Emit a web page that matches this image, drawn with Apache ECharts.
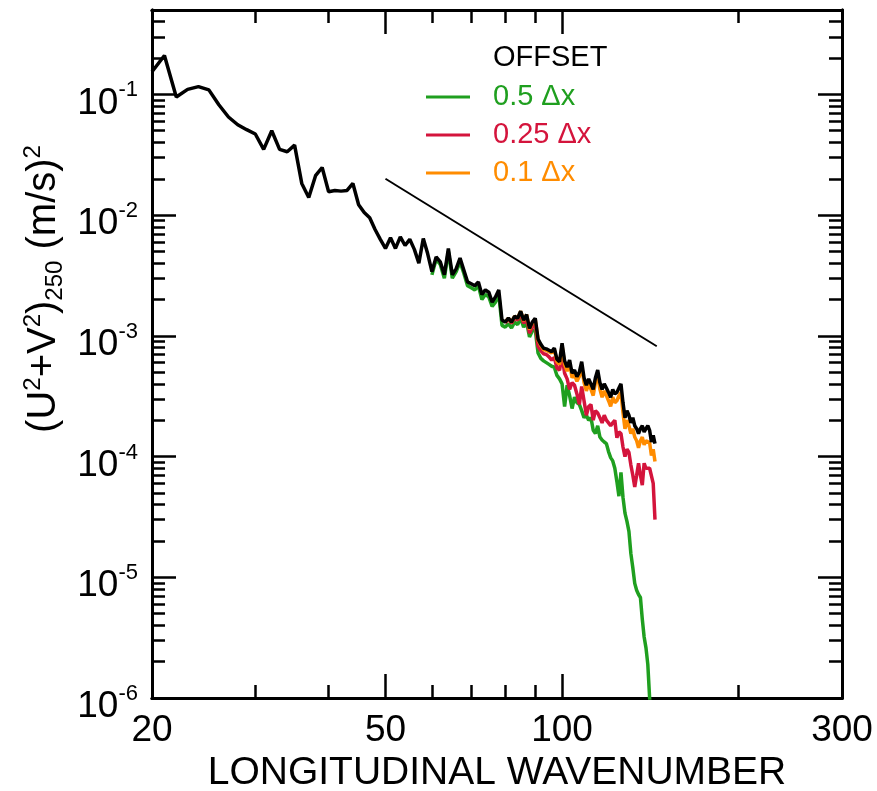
<!DOCTYPE html>
<html>
<head>
<meta charset="utf-8">
<script src="https://cdn.jsdelivr.net/npm/echarts@6/dist/echarts.min.js"></script>
<style>
html, body { margin: 0; padding: 0; background: #fff; }
#chart { width: 877px; height: 791px; }
</style>
</head>
<body>
<div id="chart"></div>
<script>
var FONT = "'Liberation Sans', Arial, Helvetica, sans-serif";
var GREEN = '#1f9f1f', RED = '#d4143c', ORANGE = '#ff8c00';

// wavenumbers 20..144
var wavenumber = [20,21,22,23,24,25,26,27,28,29,30,31,32,33,34,35,36,37,38,39,
	40,41,42,43,44,45,46,47,48,49,50,51,52,53,54,55,56,57,58,59,
	60,61,62,63,64,65,66,67,68,69,70,71,72,73,74,75,76,77,78,79,
	80,81,82,83,84,85,86,87,88,89,90,91,92,93,94,95,96,97,98,99,
	100,101,102,103,104,105,106,107,108,109,110,111,112,113,114,115,116,117,118,119,
	120,121,122,123,124,125,126,127,128,129,130,131,132,133,134,135,136,137,138,139,
	140,141,142,143,144];

// no offset (black), k = 20..144
var blackVals = [0.154,0.21,0.095,0.110,0.116,0.109,0.082,0.065,0.056,0.051,
	0.047,0.035,0.050,0.035,0.0335,0.038,0.0183,0.0140,0.0212,0.0248,
	0.0156,0.0160,0.0158,0.0160,0.0183,0.0122,0.0105,0.0095,0.0076,0.0063,
	0.0053,0.0065,0.0053,0.0066,0.0056,0.0063,0.0052,0.0040,0.0064,0.0048,
	0.0034,0.0045,0.0041,0.0032,0.0053,0.0032,0.0036,0.0044,0.0035,0.0028,
	0.0027,0.0026,0.0028,0.0022,0.0024,0.0023,0.0019,0.0021,0.0024,0.00135,
	0.0013,0.0014,0.0013,0.00145,0.0014,0.0016,0.00135,0.0015,0.00115,0.0013,
	0.0014,0.00094,0.00085,0.00079,0.00078,0.00076,0.00074,0.00079,0.00064,0.00061,
	0.00087,0.00062,0.00055,0.00063,0.00049,0.00052,0.00046,0.00050,0.00061,0.00045,
	0.00039,0.00044,0.00040,0.00036,0.00045,0.00052,0.00041,0.00036,0.00040,0.00037,
	0.00034,0.00031,0.00036,0.00033,0.00034,0.00037,0.00040,0.00028,0.00021,0.00024,
	0.00022,0.00019,0.00021,0.00018,0.00017,0.000155,0.00017,0.00018,0.00016,0.00017,
	0.00018,0.000165,0.000132,0.00015,0.000128];

// 0.5 dx (green), k = 60..142
var greenVals = [0.0032,0.0043,0.0039,0.0030,0.0050,0.0030,0.0034,0.0041,0.0033,0.0026,
	0.0025,0.0024,0.0026,0.0020,0.0022,0.0021,0.00175,0.0019,0.0022,0.00122,
	0.00118,0.00126,0.00116,0.0013,0.00124,0.0014,0.00118,0.0013,0.00098,0.0011,
	0.00112,0.00072,0.00065,0.00062,0.0006,0.00058,0.00056,0.00055,0.00047,0.00044,
	0.00040,0.00026,0.00039,0.00032,0.00025,0.00031,0.00028,0.00027,0.00024,0.00021,
	0.00022,0.0002,0.00021,0.000165,0.000155,0.00018,0.000145,0.000137,0.000132,0.000128,
	0.00011,0.000098,0.000092,0.00008,0.000062,0.000047,0.000074,0.000046,0.000034,0.000029,
	0.000024,0.0000157,0.000012,0.0000089,0.0000078,0.0000072,0.0000068,0.0000045,0.0000032,0.0000026,
	0.0000019,0.0000010,0.0000006];

// 0.25 dx (red), k = 80..144
var redVals = [0.00128,0.00138,0.00127,0.0014,0.00135,0.00152,0.00127,0.0014,0.00105,0.00118,
	0.00125,0.00082,0.00075,0.00071,0.0007,0.00067,0.00063,0.00066,0.00054,0.00052,
	0.00068,0.00049,0.00044,0.00036,0.00041,0.00039,0.00033,0.00027,0.00038,0.00029,
	0.00022,0.00026,0.00027,0.00020,0.00024,0.00023,0.00021,0.00019,0.00022,0.0002,
	0.00019,0.00018,0.00019,0.00020,0.000143,0.00016,0.000155,0.00012,0.0001,0.000115,
	0.000108,0.000085,0.00007,0.000056,0.00007,0.000088,0.00007,0.000058,0.000088,0.00008,
	0.000083,0.00008,0.000083,0.00006,0.00003];

// 0.1 dx (orange), k = 80..144
var orangeVals = [0.0013,0.0014,0.0013,0.00145,0.0014,0.0016,0.00133,0.0015,0.00113,0.00128,
	0.00138,0.00092,0.00083,0.00077,0.00076,0.00074,0.00072,0.00077,0.00061,0.00058,
	0.00083,0.00058,0.00051,0.00059,0.00045,0.00048,0.00042,0.00046,0.00056,0.00041,
	0.00035,0.00040,0.00036,0.00032,0.00041,0.00047,0.00036,0.00031,0.00035,0.00032,
	0.00029,0.00026,0.00031,0.00028,0.00029,0.00032,0.00034,0.00023,0.00017,0.00020,
	0.00018,0.000155,0.00017,0.000145,0.000135,0.000118,0.000135,0.000145,0.000125,0.000135,
	0.00014,0.00013,0.000102,0.000115,0.000091];

// k^-3 reference line
var slopeK = [50, 145];
var slopeVals = [0.02, 0.00082];

var xLabels = [20, 50, 100, 300];
var xMajor = [50, 100];
var xMinor = [30, 40, 60, 70, 80, 90, 200];
var yLabels = [1e-6, 1e-5, 1e-4, 1e-3, 1e-2, 1e-1];
var yMajor = [1e-5, 1e-4, 1e-3, 1e-2, 1e-1];
var yMinor = [];
[1e-6, 1e-5, 1e-4, 1e-3, 1e-2, 1e-1].forEach(function (d) {
	[2, 3, 4, 5, 6, 7, 8, 9].forEach(function (m) {
		var v = +(d * m).toPrecision(3);
		if (v <= 0.5) yMinor.push(v);
	});
});

function pairs(ks, vals) {
	return vals.map(function (v, i) { return [ks[i], v]; });
}

function xAxisFor(pos, ticks, len, labels) {
	return {
		type: 'log', logBase: 10, min: 20, max: 300, position: pos,
		axisLine: { show: true, lineStyle: { color: '#000', width: 3 } },
		axisTick: { show: true, inside: true, length: len, customValues: ticks,
			lineStyle: { color: '#000', width: 2.5 } },
		axisLabel: labels ? {
			show: true, customValues: xLabels, margin: 14,
			fontSize: 37, color: '#000', fontFamily: FONT,
			formatter: function (v) { return String(Math.round(v)); }
		} : { show: false },
		splitLine: { show: false }
	};
}

function yAxisFor(pos, ticks, len, labels) {
	return {
		type: 'log', logBase: 10, min: 1e-6, max: 0.5, position: pos,
		axisLine: { show: true, lineStyle: { color: '#000', width: 3 } },
		axisTick: { show: true, inside: true, length: len, customValues: ticks,
			lineStyle: { color: '#000', width: 2.5 } },
		axisLabel: labels ? {
			show: true, customValues: yLabels, margin: 14,
			color: '#000', fontFamily: FONT, padding: [18, 0, 0, 0],
			formatter: function (v) {
				return '{b|10}{s|' + Math.round(Math.log10(v)) + '}';
			},
			rich: {
				b: { fontSize: 37, lineHeight: 48, fontFamily: FONT, color: '#000' },
				s: { fontSize: 22, lineHeight: 16, verticalAlign: 'top', fontFamily: FONT, color: '#000' }
			}
		} : { show: false },
		splitLine: { show: false }
	};
}

var xMain = xAxisFor('bottom', xMajor, 24, true);
xMain.name = 'LONGITUDINAL WAVENUMBER';
xMain.nameLocation = 'middle';
xMain.nameGap = 53;
xMain.nameTextStyle = { fontSize: 39, color: '#000', fontFamily: FONT };

var chart = echarts.init(document.getElementById('chart'));
chart.setOption({
	animation: false,
	backgroundColor: '#fff',
	grid: { left: 152, right: 35, top: 10, bottom: 93, containLabel: false, outerBoundsMode: 'none' },
	title: {
		text: 'OFFSET', left: 493, top: 43, padding: 0,
		textStyle: { fontSize: 29, fontWeight: 'normal', color: '#000', fontFamily: FONT }
	},
	legend: {
		orient: 'vertical', left: 426, top: 82, padding: 0,
		icon: 'rect', itemWidth: 44, itemHeight: 3, itemGap: 8,
		textStyle: { fontSize: 29, lineHeight: 30, fontFamily: FONT, padding: [0, 0, 0, 18] },
		data: [
			{ name: '0.5 Δx', textStyle: { color: GREEN } },
			{ name: '0.25 Δx', textStyle: { color: RED } },
			{ name: '0.1 Δx', textStyle: { color: ORANGE } }
		]
	},
	graphic: [{
		type: 'text', x: 44, y: 289, rotation: Math.PI / 2,
		style: {
			text: '{n|(U}{p|2}{n|+V}{p|2}{n|)}{d|250}{n| (m/s)}{p|2}',
			align: 'center', verticalAlign: 'middle',
			rich: {
				n: { fontSize: 40, lineHeight: 46, fontFamily: FONT, fill: '#000' },
				p: { fontSize: 24, lineHeight: 22, verticalAlign: 'top', fontFamily: FONT, fill: '#000' },
				d: { fontSize: 24, lineHeight: 22, verticalAlign: 'bottom', fontFamily: FONT, fill: '#000' }
			}
		}
	}],
	xAxis: [
		xMain,
		xAxisFor('bottom', xMinor, 13, false),
		xAxisFor('top', xMajor, 24, false),
		xAxisFor('top', xMinor, 13, false)
	],
	yAxis: [
		yAxisFor('left', yMajor, 24, true),
		yAxisFor('left', yMinor, 13, false),
		yAxisFor('right', yMajor, 24, false),
		yAxisFor('right', yMinor, 13, false)
	],
	series: [
		{ name: '0.5 Δx', type: 'line', symbol: 'none', data: pairs(wavenumber.slice(40), greenVals),
			lineStyle: { color: GREEN, width: 3.5 }, itemStyle: { color: GREEN } },
		{ name: '0.25 Δx', type: 'line', symbol: 'none', data: pairs(wavenumber.slice(60), redVals),
			lineStyle: { color: RED, width: 3.5 }, itemStyle: { color: RED } },
		{ name: '0.1 Δx', type: 'line', symbol: 'none', data: pairs(wavenumber.slice(60), orangeVals),
			lineStyle: { color: ORANGE, width: 3.5 }, itemStyle: { color: ORANGE } },
		{ name: 'no offset', type: 'line', symbol: 'none', data: pairs(wavenumber, blackVals),
			lineStyle: { color: '#000', width: 3.5 }, itemStyle: { color: '#000' } },
		{ name: 'k-3', type: 'line', symbol: 'none', data: pairs(slopeK, slopeVals),
			lineStyle: { color: '#000', width: 2 }, itemStyle: { color: '#000' } }
	]
});
</script>
</body>
</html>
